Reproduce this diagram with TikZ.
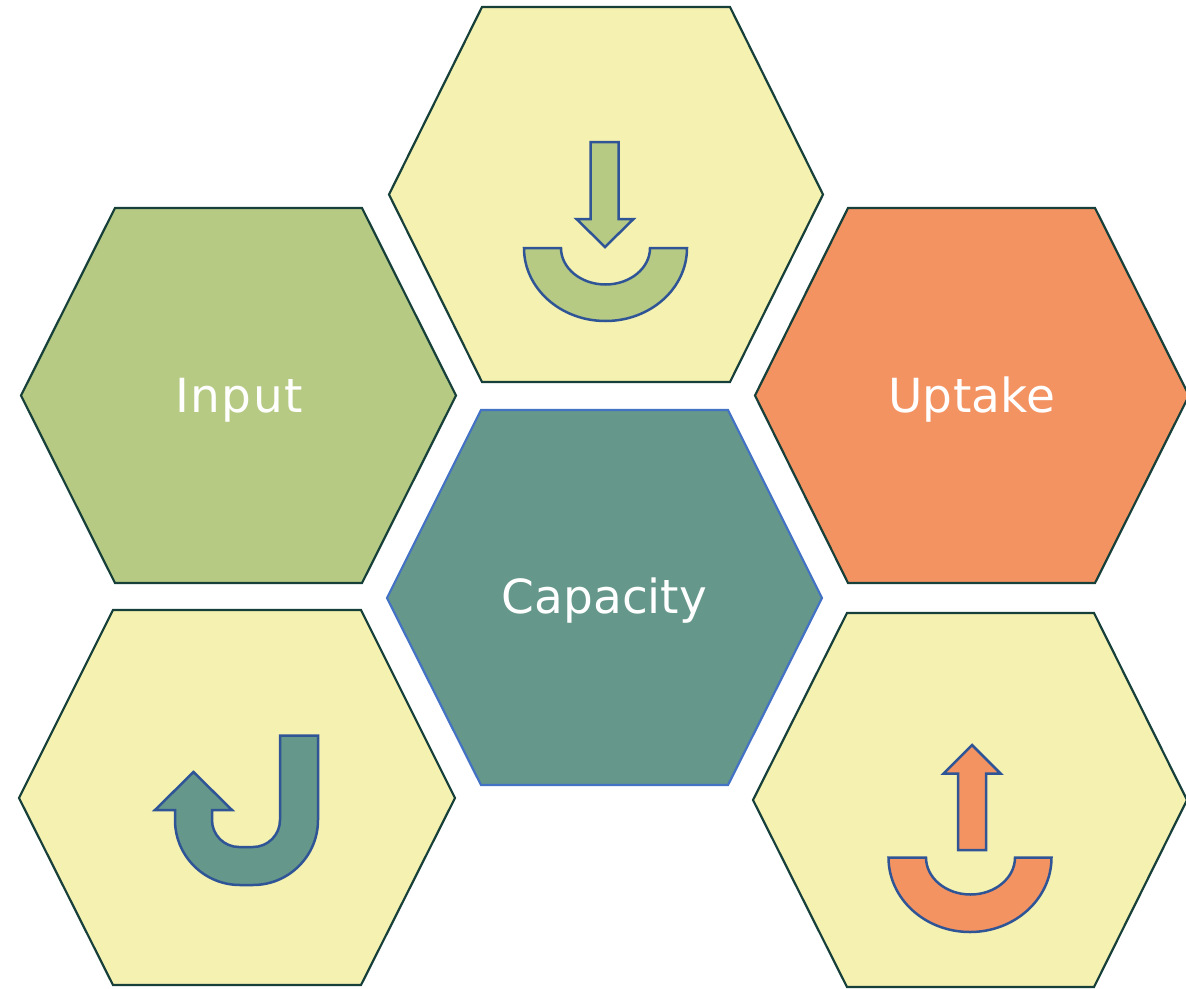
\documentclass[tikz,border=0pt]{standalone}
\usepackage{fontspec}
\setmainfont{DejaVu Sans}
\definecolor{hexyellow}{HTML}{F5F1B1}
\definecolor{hexgreen}{HTML}{B6CA84}
\definecolor{hexorange}{HTML}{F49362}
\definecolor{hexteal}{HTML}{65978A}
\definecolor{hexline}{HTML}{17403A}
\definecolor{capline}{HTML}{4472C4}
\definecolor{arrline}{HTML}{2F5597}
\tikzset{
  hexa/.style={draw=hexline,line width=2.2pt,line join=miter},
  glyph/.style={draw=arrline,line width=2.5pt,line join=miter},
  hexlabel/.style={text=white,font=\fontsize{47}{56}\selectfont,anchor=base,inner sep=0pt}
}
\begin{document}
\begin{tikzpicture}[x=1pt,y=1pt]
\useasboundingbox (0,-988) rectangle (1186,0);
\clip (0,-988) rectangle (1186,0);
\fill[white] (0,-988) rectangle (1186,0);
% hexagons
\draw[hexa,fill=hexyellow] (482,-7) -- (730,-7) -- (823,-194.5) -- (730,-382) -- (482,-382) -- (389,-194.5) -- cycle;
\draw[hexa,fill=hexgreen] (115,-208) -- (362,-208) -- (456,-395.5) -- (362,-583) -- (115,-583) -- (21,-395.5) -- cycle;
\draw[hexa,fill=hexorange] (848,-208) -- (1095,-208) -- (1189,-395.5) -- (1095,-583) -- (848,-583) -- (755,-395.5) -- cycle;
\draw[hexa,draw=capline,fill=hexteal] (481,-410) -- (728,-410) -- (822,-598) -- (728,-785) -- (481,-785) -- (387,-598) -- cycle;
\draw[hexa,fill=hexyellow] (113,-610) -- (361,-610) -- (455,-798) -- (361,-985) -- (113,-985) -- (19,-798) -- cycle;
\draw[hexa,fill=hexyellow] (847,-613) -- (1094,-613) -- (1187,-800) -- (1094,-987) -- (847,-987) -- (753,-800) -- cycle;
% top arrow and cup
\draw[glyph,fill=hexgreen] (590.5,-142) -- (618.5,-142) -- (618.5,-219) -- (633.5,-219) -- (605,-247) -- (576.5,-219) -- (590.5,-219) -- cycle;
\draw[glyph,fill=hexgreen] (524,-248) arc[start angle=180,end angle=360,x radius=81.5pt,y radius=73pt] -- (650,-248) arc[start angle=0,end angle=-180,x radius=44.5pt,y radius=36.5pt] -- cycle;
% bottom-left U-turn arrow
\draw[glyph,fill=hexteal] (280,-735.5) -- (318,-735.5) -- (318,-820) arc[start angle=0,end angle=-90,radius=65pt] -- (240,-885) arc[start angle=270,end angle=180,radius=65pt] -- (175,-810) -- (155,-810) -- (193.5,-772) -- (232,-810) -- (212,-810) -- (212,-820) arc[start angle=180,end angle=270,radius=27pt] -- (253,-847) arc[start angle=-90,end angle=0,radius=27pt] -- cycle;
% bottom-right arrow and cup
\draw[glyph,fill=hexorange] (958,-850) -- (986,-850) -- (986,-773.5) -- (1000.5,-773.5) -- (972,-745) -- (943.5,-773.5) -- (958,-773.5) -- cycle;
\draw[glyph,fill=hexorange] (888.5,-857.5) arc[start angle=180,end angle=360,x radius=81.5pt,y radius=74.5pt] -- (1015,-857.5) arc[start angle=0,end angle=-180,x radius=44.5pt,y radius=37pt] -- cycle;
% labels
\node[hexlabel] (input) at (239,-412) {\addfontfeatures{LetterSpace=3}Input};
\node[hexlabel] (uptake) at (972,-412) {\addfontfeatures{LetterSpace=0.6}Uptake};
\node[hexlabel] (capacity) at (604.5,-613) {Capacity};
\end{tikzpicture}
\end{document}
